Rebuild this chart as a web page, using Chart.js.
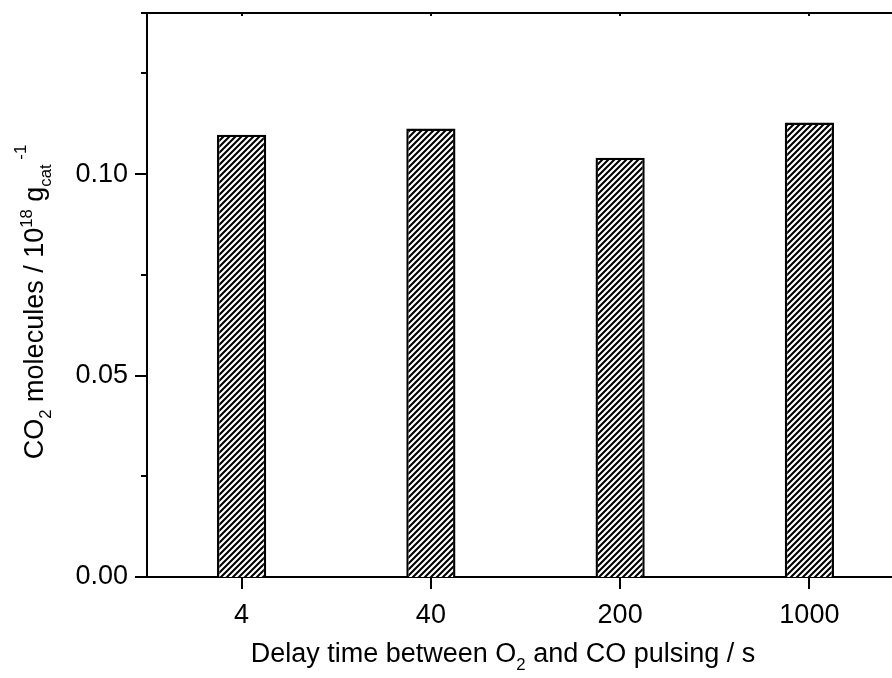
<!DOCTYPE html>
<html>
<head>
<meta charset="utf-8">
<script src="https://cdn.jsdelivr.net/npm/chart.js@4.4.1/dist/chart.umd.min.js"></script>
<style>
  html, body { margin: 0; padding: 0; background: #fff; overflow: hidden; }
  #wrap { width: 912px; height: 678px; }
</style>
</head>
<body>
<div id="wrap"><canvas id="barChart" width="912" height="678"></canvas></div>
<script>
// data
const categories = ['4', '40', '200', '1000'];
const co2Values = [0.1098, 0.1113, 0.1041, 0.1128];
const yMajorTicks = [0, 0.05, 0.10];
const Y_MAX = 0.14;
const Y_STEP = 0.025;

const FONT = "'Liberation Sans', Arial, sans-serif";
const FONT_SIZE = 27;

function makeHatch() {
  const n = 6;
  const c = document.createElement('canvas');
  c.width = n; c.height = n;
  const g = c.getContext('2d');
  g.fillStyle = '#fff';
  g.fillRect(0, 0, n, n);
  g.strokeStyle = '#000';
  g.lineWidth = 2.1;
  g.beginPath();
  g.moveTo(-1, n + 1); g.lineTo(n + 1, -1);
  g.moveTo(-1, 1); g.lineTo(1, -1);
  g.moveTo(n - 1, n + 1); g.lineTo(n + 1, n - 1);
  g.stroke();
  return g.createPattern(c, 'repeat');
}

function isMajor(v) {
  return yMajorTicks.some(m => Math.abs(m - v) < 1e-9);
}

// text runs with sub/superscripts
function runWidth(ctx, parts, size) {
  let w = 0;
  parts.forEach(p => {
    const s = p.k === 'n' ? size : size * 0.62;
    ctx.font = s + 'px ' + FONT;
    w += ctx.measureText(p.t).width;
  });
  return w;
}
function drawRun(ctx, parts, x, y, size) {
  parts.forEach(p => {
    const s = p.k === 'n' ? size : size * 0.62;
    let dy = 0;
    if (p.k === 'sub') dy = size * 0.28;
    if (p.k === 'sup') dy = -size * 0.42;
    if (p.k === 'sup2') dy = -size * 0.62;
    ctx.font = s + 'px ' + FONT;
    ctx.fillText(p.t, x, y + dy);
    x += ctx.measureText(p.t).width;
  });
}

const xTitle = [
  { t: 'Delay time between O', k: 'n' },
  { t: '2', k: 'sub' },
  { t: ' and CO pulsing / s', k: 'n' }
];
const yTitle = [
  { t: 'CO', k: 'n' },
  { t: '2', k: 'sub' },
  { t: ' molecules / 10', k: 'n' },
  { t: '18', k: 'sup' },
  { t: ' g', k: 'n' },
  { t: 'cat', k: 'sub' },
  { t: ' -1', k: 'sup2' }
];

const framePlugin = {
  id: 'frame',
  afterDraw(chart) {
    const ctx = chart.ctx;
    const a = chart.chartArea;
    const xs = chart.scales.x, ys = chart.scales.y;
    ctx.save();
    ctx.strokeStyle = '#000';
    ctx.lineWidth = 2;
    ctx.beginPath();
    ctx.moveTo(a.left - 1, a.top);
    ctx.lineTo(a.right + 1, a.top);
    ctx.lineTo(a.right, a.bottom);
    ctx.stroke();

    // y ticks (outward)
    ys.ticks.forEach(t => {
      const py = Math.round(ys.getPixelForValue(t.value));
      const len = isMajor(t.value) ? 12 : 6;
      ctx.beginPath();
      ctx.moveTo(a.left, py);
      ctx.lineTo(a.left - len, py);
      ctx.stroke();
    });
    // x ticks (outward)
    categories.forEach((c, i) => {
      const px = Math.round(xs.getPixelForValue(i));
      ctx.beginPath();
      ctx.moveTo(px, a.bottom);
      ctx.lineTo(px, a.bottom + 12);
      ctx.stroke();
      ctx.beginPath();
      ctx.moveTo(px, a.top);
      ctx.lineTo(px, a.top + 3);
      ctx.stroke();
    });

    // axis titles
    ctx.fillStyle = '#000';
    ctx.textBaseline = 'alphabetic';
    ctx.textAlign = 'left';
    const wx = runWidth(ctx, xTitle, FONT_SIZE);
    drawRun(ctx, xTitle, 503 - wx / 2, 662, FONT_SIZE);

    const wy = runWidth(ctx, yTitle, FONT_SIZE);
    ctx.translate(43, 302);
    ctx.rotate(-Math.PI / 2);
    drawRun(ctx, yTitle, -wy / 2, 0, FONT_SIZE);
    ctx.restore();
  }
};

const ctx = document.getElementById('barChart').getContext('2d');
new Chart(ctx, {
  type: 'bar',
  data: {
    labels: categories,
    datasets: [{
      data: co2Values,
      backgroundColor: makeHatch(),
      borderColor: '#000',
      borderWidth: 2.4,
      borderSkipped: 'bottom',
      categoryPercentage: 1,
      barPercentage: 0.26
    }]
  },
  options: {
    responsive: false,
    animation: false,
    layout: { padding: { top: 13, right: 8, left: 0, bottom: 0 } },
    plugins: {
      legend: { display: false },
      tooltip: { enabled: false }
    },
    scales: {
      x: {
        grid: { display: false, drawTicks: false },
        border: { display: true, color: '#000', width: 2 },
        ticks: {
          color: '#000',
          font: { family: FONT, size: FONT_SIZE },
          padding: 22,
          maxRotation: 0
        },
        afterFit(scale) {
          scale.height = 101;
          scale.paddingLeft = 0; scale.paddingRight = 0;
        }
      },
      y: {
        min: 0,
        max: Y_MAX,
        grid: { display: false, drawTicks: false },
        border: { display: true, color: '#000', width: 2 },
        ticks: {
          stepSize: Y_STEP,
          color: '#000',
          padding: 19,
          font: { family: FONT, size: FONT_SIZE },
          callback: v => isMajor(v) ? v.toFixed(2) : ''
        },
        afterFit(scale) {
          scale.width = 147;
          scale.paddingTop = 0; scale.paddingBottom = 0;
        }
      }
    }
  },
  plugins: [framePlugin]
});
</script>
</body>
</html>
